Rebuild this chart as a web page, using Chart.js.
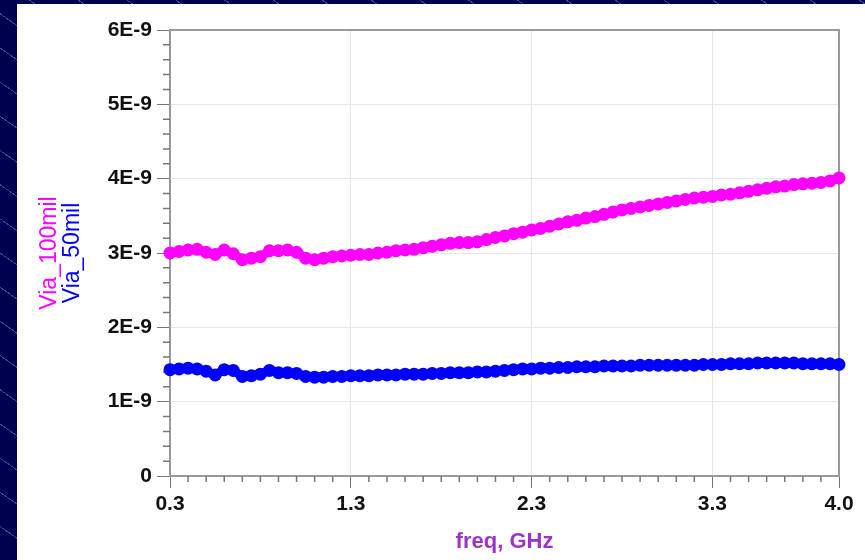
<!DOCTYPE html>
<html>
<head>
<meta charset="utf-8">
<script src="https://cdn.jsdelivr.net/npm/chart.js@4.4.1/dist/chart.umd.min.js"></script>
<style>
  html, body { margin: 0; padding: 0; }
  body {
    width: 865px; height: 560px; overflow: hidden; position: relative;
    background-color: #000050;
    background-image: repeating-linear-gradient(35deg, transparent 0 27px, rgba(110,130,210,0.55) 27px 28px);
  }
  #panel { position: absolute; left: 17px; top: 4px; width: 848px; height: 556px; background: #fff; }
</style>
</head>
<body>
<div id="panel"><canvas id="c" width="848" height="556"></canvas></div>
<script>
// frequency sweep, GHz
const freqGHz = [
  0.30, 0.35, 0.40, 0.45, 0.50, 0.55, 0.60, 0.65, 0.70, 0.75,
  0.80, 0.85, 0.90, 0.95, 1.00, 1.05, 1.10, 1.15, 1.20, 1.25,
  1.30, 1.35, 1.40, 1.45, 1.50, 1.55, 1.60, 1.65, 1.70, 1.75,
  1.80, 1.85, 1.90, 1.95, 2.00, 2.05, 2.10, 2.15, 2.20, 2.25,
  2.30, 2.35, 2.40, 2.45, 2.50, 2.55, 2.60, 2.65, 2.70, 2.75,
  2.80, 2.85, 2.90, 2.95, 3.00, 3.05, 3.10, 3.15, 3.20, 3.25,
  3.30, 3.35, 3.40, 3.45, 3.50, 3.55, 3.60, 3.65, 3.70, 3.75,
  3.80, 3.85, 3.90, 3.95, 4.00
];
// inductance in units of 1E-9
const via100mil = [
  3.00, 3.02, 3.04, 3.05, 3.01, 2.98, 3.04, 2.99, 2.91, 2.93,
  2.95, 3.03, 3.03, 3.04, 3.01, 2.93, 2.91, 2.93, 2.95, 2.96,
  2.97, 2.98, 2.98, 3.00, 3.01, 3.03, 3.04, 3.05, 3.07, 3.09,
  3.11, 3.13, 3.14, 3.14, 3.15, 3.18, 3.21, 3.23, 3.26, 3.28,
  3.31, 3.33, 3.36, 3.39, 3.42, 3.44, 3.47, 3.49, 3.52, 3.55,
  3.58, 3.60, 3.62, 3.64, 3.66, 3.68, 3.70, 3.72, 3.74, 3.75,
  3.76, 3.78, 3.79, 3.81, 3.83, 3.85, 3.87, 3.89, 3.90, 3.92,
  3.93, 3.94, 3.95, 3.97, 4.01
];
const via50mil = [
  1.43, 1.44, 1.45, 1.44, 1.41, 1.36, 1.43, 1.42, 1.34, 1.35,
  1.37, 1.42, 1.39, 1.39, 1.38, 1.34, 1.33, 1.33, 1.34, 1.34,
  1.35, 1.35, 1.35, 1.36, 1.36, 1.36, 1.37, 1.37, 1.37, 1.38,
  1.38, 1.39, 1.39, 1.39, 1.40, 1.40, 1.41, 1.42, 1.43, 1.44,
  1.44, 1.45, 1.45, 1.46, 1.46, 1.47, 1.47, 1.47, 1.48, 1.48,
  1.48, 1.48, 1.49, 1.49, 1.49, 1.49, 1.49, 1.49, 1.49, 1.50,
  1.50, 1.50, 1.51, 1.51, 1.51, 1.52, 1.52, 1.52, 1.52, 1.52,
  1.51, 1.51, 1.51, 1.51, 1.50
];
const xTickValues = [0.3, 1.3, 2.3, 3.3, 4.0];
const xTickLabels = ['0.3', '1.3', '2.3', '3.3', '4.0'];
const yTickLabels = ['0', '1E-9', '2E-9', '3E-9', '4E-9', '5E-9', '6E-9'];

const tickFont = { family: '"Liberation Sans", Arial, sans-serif', size: 21, weight: 'bold' };

// frame, minor ticks and the two coloured y titles
const adsFrame = {
  id: 'adsFrame',
  beforeDatasetsDraw(chart) {
    const { ctx, chartArea: a, scales: { x, y } } = chart;
    ctx.save();
    ctx.strokeStyle = '#999';
    ctx.lineWidth = 2;
    ctx.strokeRect(a.left, a.top, a.right - a.left, a.bottom - a.top);
    ctx.strokeStyle = '#777';
    ctx.lineWidth = 1.5;
    ctx.beginPath();
    for (let i = 1; i < 37; i++) {
      if (i % 10 === 0) continue;
      const px = x.getPixelForValue(0.3 + i * 0.1);
      ctx.moveTo(px, a.bottom);
      ctx.lineTo(px, a.bottom + 6);
    }
    for (let i = 1; i < 30; i++) {
      if (i % 5 === 0) continue;
      const py = y.getPixelForValue(i * 0.2);
      ctx.moveTo(a.left - 7, py);
      ctx.lineTo(a.left, py);
    }
    ctx.stroke();
    ctx.restore();
  },
  afterDraw(chart) {
    const { ctx, chartArea: a } = chart;
    const midY = (a.top + a.bottom) / 2;
    ctx.save();
    ctx.font = '23px "Liberation Sans", Arial, sans-serif';
    ctx.textAlign = 'center';
    ctx.textBaseline = 'middle';
    [['Via_100mil', '#ff00ff', 33], ['Via_50mil', '#0000ff', 56]].forEach(([t, col, cx]) => {
      ctx.save();
      ctx.translate(cx, midY);
      ctx.rotate(-Math.PI / 2);
      ctx.fillStyle = col;
      ctx.fillText(t, 0, 0);
      ctx.restore();
    });
    ctx.restore();
  }
};

const toPoints = (vals) => freqGHz.map((f, i) => ({ x: f, y: vals[i] }));

const seriesStyle = (col) => ({
  showLine: true,
  borderColor: col,
  backgroundColor: col,
  borderWidth: 9,
  pointRadius: 6.5,
  pointBorderWidth: 0,
  clip: false
});

new Chart(document.getElementById('c'), {
  type: 'scatter',
  data: {
    datasets: [
      Object.assign({ label: 'Via_100mil', data: toPoints(via100mil) }, seriesStyle('#ff00ff')),
      Object.assign({ label: 'Via_50mil', data: toPoints(via50mil) }, seriesStyle('#0000ff'))
    ]
  },
  options: {
    responsive: false,
    devicePixelRatio: 1,
    animation: false,
    layout: { padding: { top: 26, right: 26, left: 0, bottom: 0 } },
    plugins: { legend: { display: false }, tooltip: { enabled: false } },
    scales: {
      x: {
        type: 'linear',
        min: 0.3,
        max: 4.0,
        afterBuildTicks: (s) => { s.ticks = xTickValues.map(v => ({ value: v })); },
        afterFit: (s) => { s.height = 84; },
        ticks: {
          autoSkip: false,
          maxRotation: 0,
          padding: 4,
          color: '#111',
          font: tickFont,
          callback: (v, i) => xTickLabels[i]
        },
        grid: { color: '#e6e6e6', lineWidth: 1, tickColor: '#777', tickLength: 12 },
        border: { color: '#999', width: 2 },
        title: {
          display: true,
          text: 'freq, GHz',
          color: '#9933cc',
          font: { family: '"Liberation Sans", Arial, sans-serif', size: 22, weight: 'bold' },
          padding: { top: 0, bottom: 5 }
        }
      },
      y: {
        min: 0,
        max: 6,
        afterFit: (s) => { s.width = 153; },
        ticks: {
          stepSize: 1,
          padding: 5,
          color: '#111',
          font: tickFont,
          callback: (v, i) => yTickLabels[i]
        },
        grid: { color: '#e6e6e6', lineWidth: 1, tickColor: '#777', tickLength: 13 },
        border: { color: '#999', width: 2 }
      }
    }
  },
  plugins: [adsFrame]
});
</script>
</body>
</html>
